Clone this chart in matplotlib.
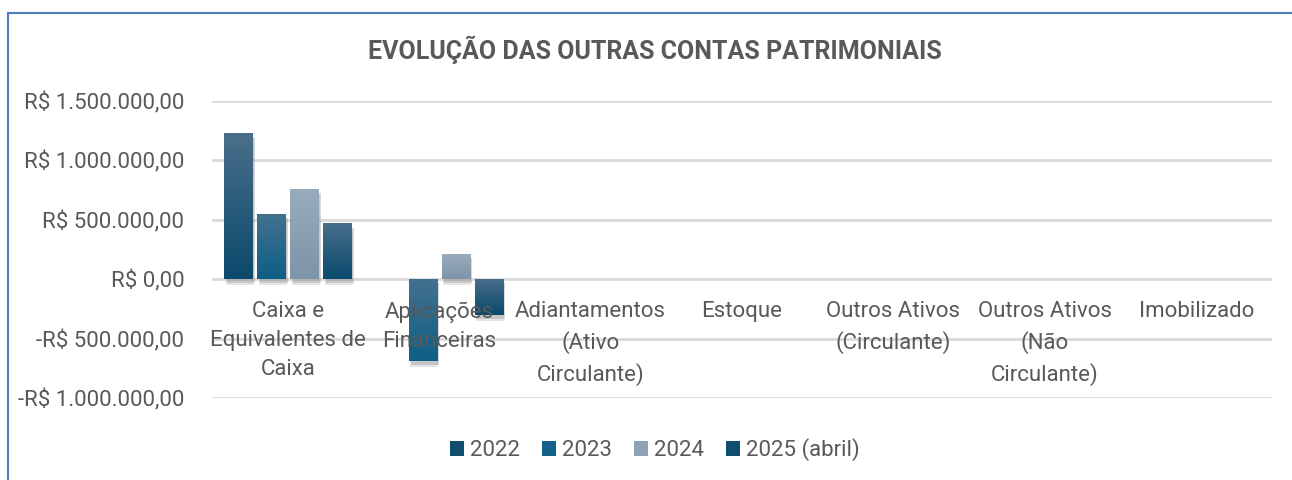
import matplotlib.pyplot as plt
import numpy as np
from matplotlib import patheffects
from matplotlib.colors import LinearSegmentedColormap
from matplotlib.lines import Line2D
from matplotlib.patches import Patch
from matplotlib.ticker import FuncFormatter

categories = [
    "Caixa e\nEquivalentes de\nCaixa",
    "Aplicações\nFinanceiras",
    "Adiantamentos\n(Ativo\nCirculante)",
    "Estoque",
    "Outros Ativos\n(Circulante)",
    "Outros Ativos\n(Não\nCirculante)",
    "Imobilizado",
]
series_names = ["2022", "2023", "2024", "2025 (abril)"]
values_2022 = [1228000, 0, 0, 0, 0, 0, 0]
values_2023 = [547000, -690000, 0, 0, 0, 0, 0]
values_2024 = [757000, 210000, 0, 0, 0, 0, 0]
values_2025 = [463000, -303000, 0, 0, 0, 0, 0]
y_ticks = [-1000000, -500000, 0, 500000, 1000000, 1500000]

# gradient colours (top, bottom) and flat colour for legend
gradients = [
    ("#4a6f8b", "#0a496b"),
    ("#43718f", "#0d5f86"),
    ("#98acbc", "#7e94a7"),
    ("#486e8a", "#0a4a6c"),
]
legend_colors = ["#104d6f", "#14628a", "#8ea3b5", "#104e70"]

FONT = ["Liberation Sans Narrow", "Roboto", "DejaVu Sans"]
TEXT_COLOR = "#595959"
plt.rcParams["font.family"] = FONT


def brl(v, _pos=None):
    s = f"{abs(v):,.2f}".replace(",", "X").replace(".", ",").replace("X", ".")
    return ("-R$ " if v < 0 else "R$ ") + s


def gradient_fill(ax, bar, top, bottom):
    h = bar.get_height()
    if h == 0:
        return
    x, y = bar.get_xy()
    w = bar.get_width()
    y0, y1 = min(y, y + h), max(y, y + h)
    cmap = LinearSegmentedColormap.from_list("g", [bottom, top])
    grad = np.linspace(0, 1, 128).reshape(-1, 1)
    ax.imshow(grad, extent=[x, x + w, y0, y1], origin="lower", cmap=cmap,
              aspect="auto", clip_path=bar, zorder=bar.get_zorder() + 0.1)


fig = plt.figure(figsize=(12.92, 4.8), dpi=100)
ax = fig.add_axes((212 / 1292, 1 - 398 / 480, 1060 / 1292, 297 / 480))

x = np.arange(len(categories))
step = 0.218
width = 0.185
all_values = [values_2022, values_2023, values_2024, values_2025]
# soft-ish drop shadow like the Excel effect
shadow = [patheffects.SimplePatchShadow(offset=(1, -4), shadow_rgbFace="#9a9a9a", alpha=0.25),
          patheffects.SimplePatchShadow(offset=(2, -2.5), shadow_rgbFace="#808080", alpha=0.3),
          patheffects.Normal()]

for i, (vals, (top, bottom)) in enumerate(zip(all_values, gradients)):
    bars = ax.bar(x + (i - 1.5) * step, vals, width, color=bottom, zorder=3,
                  linewidth=0)
    for b in bars:
        if b.get_height() != 0:
            b.set_path_effects(shadow)
        gradient_fill(ax, b, top, bottom)

ax.set_xlim(-0.5, len(categories) - 0.5)
ax.set_ylim(y_ticks[0], y_ticks[-1])
ax.set_yticks(y_ticks)
ax.yaxis.set_major_formatter(FuncFormatter(brl))
# gridlines drawn below everything else
for yv in y_ticks:
    ax.axhline(yv, color="#d9d9d9", linewidth=2, zorder=0.2)

ax.set_xticks(x)
ax.set_xticklabels(categories)
ax.spines["bottom"].set_position(("data", 0))
for s in ax.spines.values():
    s.set_visible(False)
ax.tick_params(axis="x", length=0, pad=16, labelsize=16, labelcolor=TEXT_COLOR)
ax.tick_params(axis="y", length=0, pad=20, labelsize=16, labelcolor=TEXT_COLOR)
for lbl in ax.get_xticklabels():
    lbl.set_linespacing(1.5)
# category text sits on top of the bars, as in the Excel chart
ax.xaxis.set_zorder(5)

fig.text(0.507, 1 - 50 / 480, "EVOLUÇÃO DAS OUTRAS CONTAS PATRIMONIAIS",
         ha="center", va="center", fontsize=18, fontweight="bold", color=TEXT_COLOR)

handles = [Patch(facecolor=c, edgecolor="none") for c in legend_colors]
fig.legend(handles, series_names, loc="center", bbox_to_anchor=(0.507, 1 - 450 / 480),
           ncol=4, frameon=False, fontsize=16, labelcolor=TEXT_COLOR,
           handlelength=0.63, handleheight=0.63, handletextpad=0.27, columnspacing=1.0)

# chart border (only top and left edges visible in the crop)
border = "#4a7ebb"
fig.add_artist(Line2D([8 / 1292, 8 / 1292], [0, 1 - 13 / 480], color=border, lw=1.5))
fig.add_artist(Line2D([8 / 1292, 1], [1 - 13 / 480, 1 - 13 / 480], color=border, lw=1.5))

fig.savefig("out.png", dpi=100)
